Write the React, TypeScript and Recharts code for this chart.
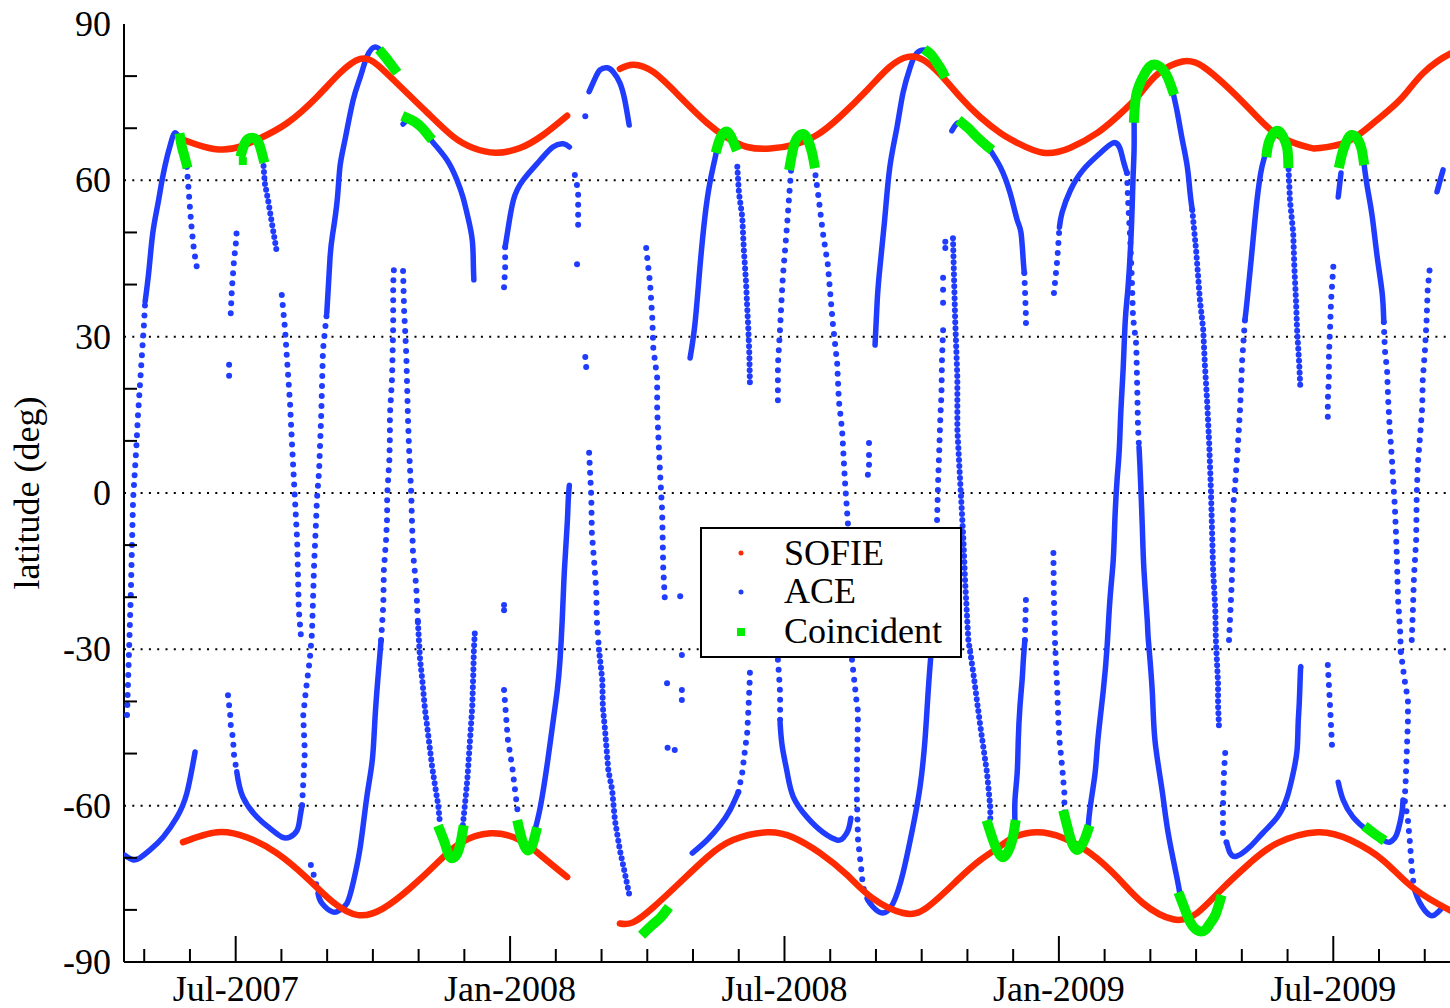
import React from 'react'
import { ScatterChart, Scatter, XAxis, YAxis, ReferenceLine, Legend } from 'recharts'

type Pt = [number, number]

// x = decimal year, y = tangent latitude (deg)
const sofieNorth: Pt[][] = [
  [[2007.404,67.8],[2007.477,65.9],[2007.539,67.8],[2007.594,71.0],[2007.648,76.0],[2007.690,80.6],[2007.727,83.3],[2007.758,82.2],[2007.800,78.0],[2007.849,73.0],[2007.896,68.4],[2007.933,66.2],[2007.973,65.3],[2008.018,66.2],[2008.060,68.7],[2008.104,72.4]],
  [[2008.200,81.4],[2008.224,82.2],[2008.261,80.8],[2008.310,76.0],[2008.359,71.0],[2008.395,68.2],[2008.432,66.4],[2008.474,66.1],[2008.516,66.8],[2008.559,68.7],[2008.601,72.2],[2008.651,77.4],[2008.692,81.8],[2008.725,83.7],[2008.753,83.1],[2008.784,80.3],[2008.820,76.0],[2008.856,72.2],[2008.893,69.1],[2008.924,67.2],[2008.971,65.3],[2009.020,66.2],[2009.070,69.1],[2009.106,72.2],[2009.143,76.0],[2009.179,80.3],[2009.225,82.8],[2009.263,81.8],[2009.312,77.4],[2009.361,72.2],[2009.403,68.4],[2009.452,66.4],[2009.476,66.2],[2009.525,67.4],[2009.573,71.0],[2009.622,75.5],[2009.664,80.6],[2009.713,84.3],[2009.733,84.7]],
]

const sofieSouth: Pt[][] = [
  [[2007.404,-67.0],[2007.466,-65.1],[2007.521,-66.1],[2007.575,-69.1],[2007.630,-73.9],[2007.677,-78.5],[2007.723,-81.0],[2007.769,-79.7],[2007.818,-75.8],[2007.867,-71.0],[2007.909,-67.2],[2007.964,-65.3],[2008.018,-66.6],[2008.060,-69.9],[2008.104,-73.7]],
  [[2008.200,-82.6],[2008.224,-82.4],[2008.261,-79.5],[2008.310,-74.7],[2008.359,-69.9],[2008.406,-66.6],[2008.468,-65.1],[2008.516,-66.1],[2008.565,-69.1],[2008.614,-73.3],[2008.661,-77.8],[2008.716,-80.6],[2008.760,-79.5],[2008.815,-74.3],[2008.856,-70.5],[2008.893,-67.8],[2008.917,-66.1],[2008.960,-65.1],[2009.008,-66.2],[2009.057,-69.1],[2009.106,-73.7],[2009.153,-78.7],[2009.208,-81.8],[2009.252,-80.6],[2009.299,-75.8],[2009.348,-71.0],[2009.398,-67.2],[2009.471,-65.1],[2009.531,-66.6],[2009.591,-70.5],[2009.646,-75.8],[2009.713,-80.1],[2009.733,-81.0]],
]

// ACE tracks where the events are close together
const aceSolid: Pt[][] = [
  [[2007.298,-69.5],[2007.313,-70.4],[2007.326,-70.0],[2007.344,-68.5],[2007.368,-66.0],[2007.393,-62.2],[2007.411,-57.6],[2007.426,-49.7]],
  [[2007.335,36.7],[2007.342,42.8],[2007.349,49.9],[2007.358,55.3],[2007.366,60.1],[2007.375,64.5],[2007.382,67.2],[2007.389,69.1],[2007.399,67.7],[2007.406,65.4],[2007.411,62.6]],
  [[2007.502,-53.5],[2007.513,-58.3],[2007.539,-62.2],[2007.562,-64.3],[2007.584,-66.0],[2007.599,-66.0],[2007.612,-64.7],[2007.617,-62.4],[2007.621,-59.9]],
  [[2007.666,34.5],[2007.672,45.3],[2007.677,49.9],[2007.685,56.2],[2007.690,62.6],[2007.699,67.7],[2007.714,75.4],[2007.727,79.8],[2007.739,83.7],[2007.754,85.6],[2007.769,84.4]],
  [[2007.650,-76.8],[2007.657,-78.7],[2007.677,-80.4],[2007.690,-80.0],[2007.703,-78.7],[2007.714,-74.8],[2007.727,-67.9],[2007.739,-58.3],[2007.749,-51.2],[2007.754,-43.0],[2007.760,-34.5],[2007.765,-28.2]],
  [[2007.805,70.8],[2007.818,71.8],[2007.836,70.6],[2007.854,68.1],[2007.860,67.2],[2007.885,63.9],[2007.903,60.1],[2007.914,56.8],[2007.923,53.0],[2007.931,48.6],[2007.933,44.1],[2007.934,40.9]],
  [[2007.991,47.2],[2007.996,50.5],[2008.006,56.2],[2008.024,60.1],[2008.055,63.9],[2008.078,66.4],[2008.097,67.0],[2008.108,66.4]],
  [[2008.042,-66.0],[2008.055,-60.3],[2008.068,-51.8],[2008.077,-44.9],[2008.086,-37.8],[2008.091,-32.0],[2008.095,-24.4],[2008.099,-14.8],[2008.104,-6.1],[2008.106,-1.3],[2008.108,1.5]],
  [[2008.144,77.0],[2008.155,79.6],[2008.164,81.2],[2008.177,81.6],[2008.188,80.8],[2008.200,78.7],[2008.209,75.4],[2008.217,70.6]],
  [[2008.328,25.9],[2008.337,32.6],[2008.346,43.4],[2008.355,53.0],[2008.364,59.5],[2008.374,64.5],[2008.377,66.2]],
  [[2008.332,-69.1],[2008.359,-66.6],[2008.383,-63.7],[2008.401,-60.8],[2008.416,-57.4]],
  [[2008.492,-44.1],[2008.496,-48.7],[2008.505,-53.7],[2008.516,-58.3],[2008.541,-62.2],[2008.570,-65.1],[2008.596,-66.6],[2008.607,-66.2],[2008.616,-64.7],[2008.621,-62.4]],
  [[2008.652,-78.1],[2008.661,-79.4],[2008.679,-80.6],[2008.698,-78.7],[2008.716,-72.9],[2008.734,-64.1],[2008.747,-56.4],[2008.756,-47.4],[2008.762,-37.8],[2008.769,-28.2]],
  [[2008.665,28.4],[2008.669,37.0],[2008.674,43.4],[2008.683,53.0],[2008.692,62.6],[2008.705,70.2],[2008.716,76.8],[2008.729,81.7],[2008.741,84.4],[2008.756,85.0],[2008.763,84.4]],
  [[2008.805,69.5],[2008.815,71.0],[2008.826,70.8]],
  [[2008.871,66.4],[2008.893,62.6],[2008.911,57.6],[2008.924,52.4],[2008.931,49.9],[2008.935,44.7],[2008.937,42.2]],
  [[2008.920,-63.7],[2008.920,-58.9],[2008.924,-53.7],[2008.926,-47.4],[2008.929,-41.1],[2008.933,-35.9],[2008.935,-32.4],[2008.938,-28.2]],
  [[2009.001,51.0],[2009.006,53.9],[2009.021,58.1],[2009.044,62.0],[2009.075,65.2],[2009.099,67.2],[2009.111,66.2],[2009.117,63.9],[2009.124,61.4]],
  [[2009.053,-64.7],[2009.057,-60.3],[2009.066,-53.7],[2009.071,-47.4],[2009.081,-37.8],[2009.088,-29.2],[2009.093,-20.5],[2009.099,-12.9],[2009.102,-5.2],[2009.106,2.5],[2009.110,8.3],[2009.113,15.9],[2009.117,23.6],[2009.121,33.2],[2009.126,39.5],[2009.132,50.5],[2009.135,60.1],[2009.137,65.8],[2009.137,71.6]],
  [[2009.146,8.8],[2009.148,4.4],[2009.152,-6.5],[2009.155,-14.8],[2009.161,-24.4],[2009.163,-28.2],[2009.170,-37.8],[2009.175,-47.4],[2009.188,-57.0],[2009.199,-65.2],[2009.216,-74.3],[2009.221,-77.5]],
  [[2009.207,77.3],[2009.216,72.9],[2009.225,67.7],[2009.234,62.6],[2009.239,57.6],[2009.243,54.3]],
  [[2009.306,-67.2],[2009.312,-69.1],[2009.324,-69.7],[2009.348,-67.9],[2009.372,-65.2],[2009.398,-62.2],[2009.416,-58.3],[2009.427,-53.7],[2009.434,-49.3],[2009.436,-44.1],[2009.438,-40.3],[2009.440,-34.5],[2009.441,-33.4]],
  [[2009.339,33.2],[2009.343,37.0],[2009.352,46.6],[2009.361,56.2],[2009.370,62.6],[2009.379,65.8]],
  [[2009.509,56.8],[2009.514,61.4]],
  [[2009.555,63.9],[2009.562,58.7],[2009.571,53.0],[2009.580,45.3],[2009.589,38.4],[2009.592,32.8]],
  [[2009.509,-55.5],[2009.518,-58.9],[2009.536,-62.2],[2009.562,-64.7],[2009.591,-66.6],[2009.603,-67.0],[2009.612,-66.2],[2009.618,-64.7],[2009.625,-61.4],[2009.627,-58.9]],
  [[2009.647,-75.8],[2009.658,-78.7],[2009.676,-81.0],[2009.689,-80.6],[2009.700,-79.4]],
  [[2009.689,57.8],[2009.695,60.1],[2009.700,62.0]],
]

// ACE tracks with sparse events
const aceDotted: Pt[][] = [
  [[2007.302,-42.6],[2007.304,-35.9],[2007.309,-19.2],[2007.313,-1.3],[2007.319,8.8],[2007.322,15.0],[2007.328,24.6],[2007.333,32.6],[2007.335,36.7]],
  [[2007.411,62.6],[2007.417,54.3],[2007.420,50.5],[2007.424,46.6],[2007.430,42.8]],
  [[2007.491,34.5],[2007.493,39.0],[2007.497,44.7],[2007.501,48.6],[2007.502,51.0]],
  [[2007.486,-38.8],[2007.490,-42.6],[2007.491,-44.5],[2007.495,-47.0],[2007.497,-50.3],[2007.502,-53.5]],
  [[2007.621,-59.9],[2007.626,-49.7],[2007.623,-42.8],[2007.628,-37.8],[2007.635,-32.0],[2007.639,-26.9],[2007.643,-13.4],[2007.646,-6.5],[2007.648,-1.3],[2007.652,4.4],[2007.656,15.4],[2007.659,27.4],[2007.666,34.5]],
  [[2007.637,-71.4],[2007.645,-74.3],[2007.650,-76.8]],
  [[2007.765,-28.2],[2007.769,-21.5],[2007.770,-14.8],[2007.774,-9.0],[2007.776,-4.6],[2007.776,-0.4],[2007.780,6.3],[2007.781,10.9],[2007.781,15.0],[2007.785,22.1],[2007.787,32.2],[2007.787,40.1],[2007.789,44.5]],
  [[2007.805,42.6],[2007.807,34.7],[2007.809,30.7],[2007.811,26.1],[2007.814,14.0],[2007.816,8.3],[2007.820,-0.4],[2007.821,-4.6],[2007.823,-11.3],[2007.829,-18.0],[2007.832,-24.8]],
  [[2007.584,38.0],[2007.590,31.3],[2007.593,26.5],[2007.599,17.3],[2007.603,8.6],[2007.608,-1.3],[2007.612,-9.0],[2007.615,-22.5],[2007.619,-27.6]],
  [[2007.989,39.5],[2007.991,43.2],[2007.991,47.2]],
  [[2007.989,-37.8],[2007.996,-47.4],[2008.004,-52.6],[2008.009,-57.0],[2008.015,-62.2]],
  [[2008.118,61.0],[2008.124,58.1],[2008.124,51.0]],
  [[2008.137,26.1],[2008.140,22.6]],
  [[2008.144,7.7],[2008.148,-0.8],[2008.149,-7.7],[2008.153,-12.9],[2008.157,-18.6],[2008.158,-24.4],[2008.162,-30.1]],
  [[2008.248,47.0],[2008.255,40.3],[2008.259,33.8],[2008.261,27.8],[2008.268,22.1],[2008.268,15.9],[2008.273,4.4],[2008.277,-3.3],[2008.279,-14.2],[2008.282,-20.5]],
  [[2008.416,-57.4],[2008.423,-53.7],[2008.428,-49.3],[2008.432,-46.1],[2008.434,-42.0],[2008.437,-35.3],[2008.437,-32.6]],
  [[2008.488,17.8],[2008.488,24.6],[2008.492,31.7],[2008.494,35.7],[2008.497,41.5],[2008.501,46.6],[2008.505,51.8],[2008.510,59.1],[2008.512,62.0]],
  [[2008.488,-32.0],[2008.490,-34.9],[2008.492,-38.4],[2008.492,-41.6],[2008.492,-44.1]],
  [[2008.554,62.9],[2008.561,57.6],[2008.570,49.9],[2008.579,43.8],[2008.588,32.6],[2008.596,24.9],[2008.599,17.8],[2008.605,12.1],[2008.610,2.5],[2008.616,-6.5]],
  [[2008.623,-32.0],[2008.631,-39.7],[2008.634,-42.0],[2008.632,-52.6],[2008.632,-58.9],[2008.634,-66.6],[2008.640,-72.3],[2008.643,-75.6],[2008.652,-78.1]],
  [[2008.769,-28.2],[2008.775,-20.5],[2008.778,-5.2],[2008.780,2.5],[2008.782,8.3],[2008.784,14.6],[2008.786,18.8],[2008.787,25.7],[2008.789,31.3]],
  [[2008.938,-28.2],[2008.940,-20.0]],
  [[2008.937,42.2],[2008.940,33.8],[2008.940,32.2]],
  [[2008.990,-11.5],[2008.991,-20.5],[2008.993,-28.8],[2008.995,-33.4],[2008.997,-37.8],[2008.999,-43.6],[2009.001,-47.4],[2009.006,-52.6],[2009.010,-57.6],[2009.010,-61.4]],
  [[2008.991,38.4],[2008.997,44.7],[2009.001,51.0]],
  [[2009.124,61.4],[2009.126,56.2],[2009.130,48.6],[2009.133,40.9],[2009.135,33.8],[2009.141,28.4],[2009.143,18.8],[2009.144,13.0],[2009.146,8.8]],
  [[2009.303,-49.9],[2009.301,-53.2],[2009.299,-60.1],[2009.299,-65.6],[2009.306,-67.2]],
  [[2009.310,-28.2],[2009.315,-17.3],[2009.317,-9.0],[2009.317,-3.3],[2009.321,1.5],[2009.326,8.8],[2009.330,15.9],[2009.334,25.5],[2009.339,33.2]],
  [[2009.500,43.4],[2009.496,37.0],[2009.494,31.3],[2009.492,26.5],[2009.492,22.3],[2009.490,17.8],[2009.490,14.6]],
  [[2009.490,-33.0],[2009.492,-36.8],[2009.494,-40.7],[2009.496,-44.9],[2009.498,-49.3]],
  [[2009.592,32.8],[2009.594,27.4],[2009.598,23.6],[2009.600,17.8],[2009.603,12.1],[2009.607,6.3],[2009.609,2.5],[2009.612,-2.3],[2009.614,-7.1],[2009.616,-12.9],[2009.618,-20.5],[2009.622,-26.9],[2009.623,-30.5]],
  [[2009.623,-30.5],[2009.630,-35.9],[2009.636,-39.7],[2009.636,-43.6],[2009.634,-49.3],[2009.632,-55.1],[2009.630,-58.9],[2009.636,-62.8],[2009.640,-67.5],[2009.643,-72.0],[2009.647,-75.8]],
  [[2009.643,-28.2],[2009.645,-22.5],[2009.647,-16.1],[2009.651,-9.0],[2009.652,-0.4],[2009.654,5.4],[2009.662,16.3],[2009.663,21.7],[2009.667,27.4],[2009.670,33.2],[2009.672,39.0],[2009.676,43.4]],
]

// ACE tracks with closely spaced single events
const aceDense: Pt[][] = [
  [[2007.550,63.9],[2007.553,59.5],[2007.559,56.2],[2007.568,50.5],[2007.575,46.2]],
  [[2007.832,-24.8],[2007.836,-32.0],[2007.840,-35.9],[2007.845,-41.6],[2007.849,-44.9],[2007.858,-52.6],[2007.863,-56.0],[2007.869,-59.9],[2007.872,-63.1]],
  [[2007.914,-63.7],[2007.918,-59.5],[2007.922,-55.1],[2007.927,-47.4],[2007.931,-41.1],[2007.933,-34.5],[2007.934,-30.1],[2007.936,-26.3]],
  [[2008.162,-30.1],[2008.168,-35.9],[2008.169,-41.1],[2008.173,-45.5],[2008.179,-53.2],[2008.186,-57.0],[2008.191,-62.8],[2008.200,-68.5],[2008.209,-72.9],[2008.218,-77.5]],
  [[2008.414,62.6],[2008.417,57.6],[2008.423,53.0],[2008.426,46.6],[2008.430,40.3],[2008.432,35.7],[2008.434,31.7],[2008.436,26.5],[2008.437,21.1]],
  [[2008.807,48.9],[2008.811,33.2],[2008.815,22.1],[2008.815,12.1],[2008.818,6.3],[2008.822,-1.3],[2008.826,-9.0],[2008.829,-16.7],[2008.833,-24.4],[2008.835,-28.2],[2008.844,-34.5],[2008.856,-44.1],[2008.869,-53.7],[2008.875,-60.3],[2008.875,-63.1]],
  [[2009.243,54.3],[2009.250,46.6],[2009.257,37.0],[2009.263,31.3],[2009.266,24.6],[2009.270,17.8],[2009.274,9.2],[2009.277,0.6],[2009.279,-7.1],[2009.281,-14.8],[2009.285,-22.5],[2009.286,-28.2],[2009.290,-36.5],[2009.290,-40.7],[2009.292,-45.5]],
  [[2009.418,63.3],[2009.421,56.2],[2009.427,49.9],[2009.429,43.4],[2009.432,37.0],[2009.434,31.3],[2009.438,24.6],[2009.440,20.1]],
]

const acePoints: Pt[] = [
  [2007.488,22.5],[2007.488,24.6],[2007.989,-21.5],[2007.989,-22.5],[2008.137,72.3],[2008.122,43.9],
  [2008.313,-31.1],[2008.286,-36.5],[2008.313,-37.8],[2008.313,-39.7],[2008.287,-48.9],[2008.300,-49.3],[2008.310,-19.8],
  [2008.793,48.2],[2008.793,47.0],[2008.789,41.3],[2008.789,39.0],[2008.789,36.5],
  [2008.654,9.6],[2008.654,7.3],[2008.654,5.4],[2008.652,3.5],
]

const coincident: Pt[][] = [
  [[2007.399,68.1],[2007.402,66.4],[2007.406,64.9],[2007.410,63.3]],
  [[2007.511,65.4],[2007.517,67.2],[2007.526,68.1],[2007.537,67.9],[2007.544,66.6],[2007.550,64.3]],
  [[2007.767,84.4],[2007.774,83.5],[2007.781,82.5],[2007.789,81.4]],
  [[2007.812,72.0],[2007.827,71.2],[2007.840,70.0],[2007.852,68.5]],
  [[2007.872,-64.7],[2007.882,-67.5],[2007.891,-69.9],[2007.902,-69.5],[2007.909,-67.5],[2007.914,-64.7]],
  [[2008.015,-63.7],[2008.022,-66.6],[2008.031,-68.5],[2008.040,-67.7],[2008.047,-65.1]],
  [[2008.246,-84.2],[2008.259,-82.9],[2008.273,-81.6],[2008.284,-80.2]],
  [[2008.377,66.2],[2008.383,68.1],[2008.392,69.3],[2008.401,68.7],[2008.410,66.6]],
  [[2008.510,62.9],[2008.516,66.2],[2008.523,68.1],[2008.534,68.9],[2008.543,67.7],[2008.550,65.4],[2008.554,63.3]],
  [[2008.762,84.6],[2008.769,83.9],[2008.778,82.5],[2008.785,81.4],[2008.789,80.6]],
  [[2008.824,71.0],[2008.835,70.0],[2008.847,68.7],[2008.862,67.2],[2008.871,66.4]],
  [[2008.871,-63.7],[2008.880,-66.6],[2008.889,-68.9],[2008.898,-69.9],[2008.907,-68.9],[2008.915,-66.6],[2008.920,-63.7]],
  [[2009.010,-61.8],[2009.017,-64.7],[2009.024,-67.2],[2009.033,-68.5],[2009.042,-67.5],[2009.048,-66.2],[2009.053,-64.7]],
  [[2009.137,72.0],[2009.141,76.4],[2009.152,79.6],[2009.166,81.9],[2009.179,82.1],[2009.190,81.2],[2009.199,79.6],[2009.207,77.3]],
  [[2009.221,-77.5],[2009.230,-80.0],[2009.239,-82.3],[2009.252,-83.9],[2009.266,-83.9],[2009.276,-82.5],[2009.285,-81.0],[2009.294,-78.1]],
  [[2009.379,65.4],[2009.384,67.7],[2009.397,69.5],[2009.408,68.5],[2009.416,66.2],[2009.418,63.3]],
  [[2009.512,63.3],[2009.518,65.8],[2009.527,68.1],[2009.534,68.7],[2009.543,68.1],[2009.551,66.2],[2009.555,63.9]],
  [[2009.564,-64.5],[2009.575,-65.4],[2009.586,-66.2]],
]

const coincidentPoints: Pt[] = [[2007.513,63.7]]

const xMajorTicks = [2007.5, 2008, 2008.5, 2009, 2009.5]
const xTickLabels = ['Jul-2007', 'Jan-2008', 'Jul-2008', 'Jan-2009', 'Jul-2009']
const yTicks = [-90, -80, -70, -60, -50, -40, -30, -20, -10, 0, 10, 20, 30, 40, 50, 60, 70, 80, 90]
const yGrid = [-60, -30, 0, 30, 60]

const RED = '#ff2a00'
const BLUE = '#1f3cff'
const GREEN = '#00ee00'
const FONT = "'Liberation Serif', 'Times New Roman', serif"
const FS = 36

const X_MIN = 2007.2965
const X_MAX = 2009.7327
const TOP = 24
const BOTTOM = 962
const LEFT = 124
const RIGHT = 1461

// monthly minor ticks between the half-year labels
const xTicks: number[] = []
for (let i = -2; i <= 26; i++) xTicks.push(2007.5 + i / 12)

const majorIndex = (v: number) => xMajorTicks.findIndex((m) => Math.abs(m - v) < 1e-6)
const toObj = (pts: Pt[]) => pts.map(([x, y]) => ({ x, y }))
const noShape = () => <g />

const BottomTick = (props: any) => {
  const { x, payload } = props
  const idx = majorIndex(payload.value)
  const len = idx >= 0 ? 26 : 13
  return (
    <g>
      <line x1={x} x2={x} y1={BOTTOM} y2={BOTTOM - len} stroke="#000" strokeWidth={2} />
      {idx >= 0 && (
        <text x={x} y={1001} textAnchor="middle" fontSize={FS} fontFamily={FONT} fill="#000">
          {xTickLabels[idx]}
        </text>
      )}
    </g>
  )
}

const TopTick = (props: any) => {
  const { x, payload } = props
  const len = majorIndex(payload.value) >= 0 ? 26 : 13
  return <line x1={x} x2={x} y1={TOP} y2={TOP + len} stroke="#000" strokeWidth={2} />
}

const LeftTick = (props: any) => {
  const { y, payload } = props
  const v = payload.value
  if (v % 30 !== 0) {
    return <line x1={LEFT} x2={LEFT + 13} y1={y} y2={y} stroke="#000" strokeWidth={2} />
  }
  return (
    <text x={111} y={y + 12} textAnchor="end" fontSize={FS} fontFamily={FONT} fill="#000">
      {String(v)}
    </text>
  )
}

const RightTick = (props: any) => {
  const { y, payload } = props
  if (payload.value % 30 === 0) return <g />
  return <line x1={RIGHT} x2={RIGHT - 13} y1={y} y2={y} stroke="#000" strokeWidth={2} />
}

const YTitle = () => (
  <text transform="translate(39,493) rotate(-90)" textAnchor="middle" fontSize={FS} fontFamily={FONT} fill="#000">
    latitude (deg)
  </text>
)

const renderLegend = () => (
  <svg width={262} height={131} style={{ display: 'block' }}>
    <rect x={1} y={1} width={260} height={129} fill="#fff" stroke="#000" strokeWidth={2} />
    <circle cx={41} cy={26} r={2.5} fill={RED} />
    <text x={84} y={38} fontSize={FS} fontFamily={FONT} fill="#000">SOFIE</text>
    <circle cx={41} cy={65} r={2.5} fill={BLUE} />
    <text x={84} y={76} fontSize={FS} fontFamily={FONT} fill="#000">ACE</text>
    <rect x={37} y={101} width={8} height={8} fill={GREEN} />
    <text x={84} y={116} fontSize={FS} fontFamily={FONT} fill="#000">Coincident</text>
  </svg>
)

const axisLine = { stroke: '#000', strokeWidth: 2 }

export default function App() {
  return (
    <div style={{ position: 'absolute', left: 0, top: 0, width: 1450, height: 1008, overflow: 'hidden', background: '#fff' }}>
      <ScatterChart width={RIGHT} height={1008} margin={{ top: TOP, right: 0, bottom: 0, left: 0 }}>
        <XAxis xAxisId="b" type="number" dataKey="x" domain={[X_MIN, X_MAX]} allowDataOverflow ticks={xTicks}
          interval={0} tick={(p: any) => <BottomTick {...p} />} tickLine={false} axisLine={axisLine} height={46} />
        <XAxis xAxisId="t" orientation="top" type="number" dataKey="x" domain={[X_MIN, X_MAX]} allowDataOverflow
          ticks={xTicks} interval={0} tick={(p: any) => <TopTick {...p} />} tickLine={false} axisLine={axisLine} height={0} />
        <YAxis yAxisId="l" type="number" dataKey="y" domain={[-90, 90]} allowDataOverflow ticks={yTicks} interval={0}
          tick={(p: any) => <LeftTick {...p} />} tickLine={false} axisLine={axisLine} width={LEFT} label={<YTitle />} />
        <YAxis yAxisId="r" orientation="right" type="number" dataKey="y" domain={[-90, 90]} allowDataOverflow ticks={yTicks}
          interval={0} tick={(p: any) => <RightTick {...p} />} tickLine={false} axisLine={axisLine} width={0} />

        {yGrid.map((v) => (
          <ReferenceLine key={`g${v}`} xAxisId="b" yAxisId="l" y={v} stroke="#000" strokeWidth={2} strokeDasharray="2 6.3" />
        ))}

        {aceSolid.map((t, i) => (
          <Scatter key={`as${i}`} xAxisId="b" yAxisId="l" data={toObj(t)} fill={BLUE} shape={noShape}
            line={{ stroke: BLUE, strokeWidth: 5.5, strokeLinecap: 'round', strokeLinejoin: 'round' }}
            lineJointType="natural" isAnimationActive={false} />
        ))}
        {aceDense.map((t, i) => (
          <Scatter key={`ad${i}`} xAxisId="b" yAxisId="l" data={toObj(t)} fill={BLUE} shape={noShape}
            line={{ stroke: BLUE, strokeWidth: 6, strokeLinecap: 'round', strokeDasharray: '0 6' }}
            lineJointType="linear" isAnimationActive={false} />
        ))}
        {aceDotted.map((t, i) => (
          <Scatter key={`ao${i}`} xAxisId="b" yAxisId="l" data={toObj(t)} fill={BLUE} shape={noShape}
            line={{ stroke: BLUE, strokeWidth: 6, strokeLinecap: 'round', strokeDasharray: '0 10' }}
            lineJointType="linear" isAnimationActive={false} />
        ))}
        <Scatter xAxisId="b" yAxisId="l" data={toObj(acePoints)} fill={BLUE} isAnimationActive={false}
          shape={(p: any) => <circle cx={p.cx} cy={p.cy} r={3} fill={BLUE} />} />

        {[...sofieNorth, ...sofieSouth].map((t, i) => (
          <Scatter key={`s${i}`} xAxisId="t" yAxisId="r" data={toObj(t)} fill={RED} shape={noShape}
            line={{ stroke: RED, strokeWidth: 6.5, strokeLinecap: 'round' }}
            lineJointType="natural" isAnimationActive={false} />
        ))}

        {coincident.map((t, i) => (
          <Scatter key={`c${i}`} xAxisId="b" yAxisId="l" data={toObj(t)} fill={GREEN} shape={noShape}
            line={{ stroke: GREEN, strokeWidth: 10, strokeLinecap: 'square', strokeLinejoin: 'round' }}
            lineJointType="natural" isAnimationActive={false} />
        ))}
        <Scatter xAxisId="b" yAxisId="l" data={toObj(coincidentPoints)} fill={GREEN} isAnimationActive={false}
          shape={(p: any) => <rect x={p.cx - 4} y={p.cy - 4} width={8} height={8} fill={GREEN} />} />

        <Legend layout="vertical" align="center" verticalAlign="middle" content={renderLegend}
          wrapperStyle={{ left: 700, top: 527, width: 262, height: 131 }} />
      </ScatterChart>
    </div>
  )
}
